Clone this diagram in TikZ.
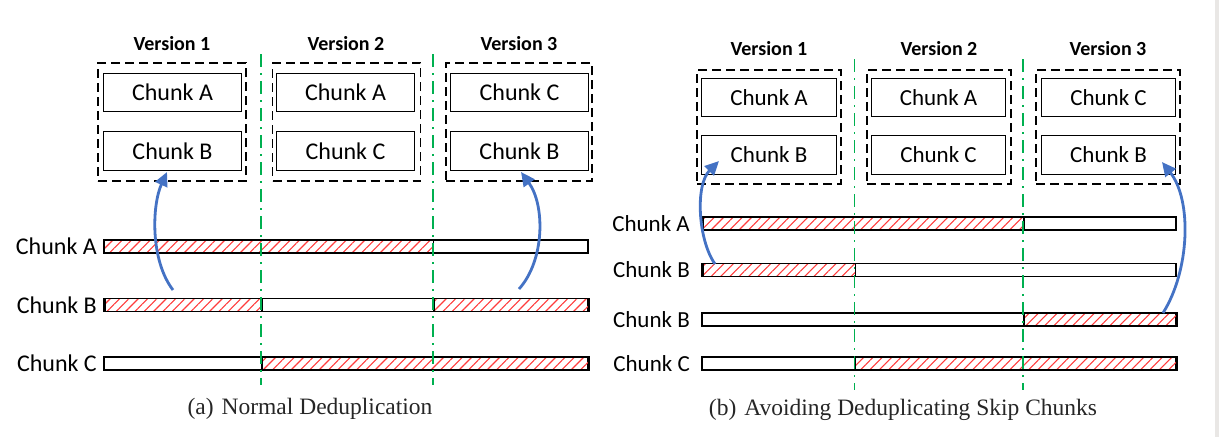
\documentclass[tikz,border=0pt]{standalone}
\usepackage{fontspec}
\newfontfamily\carl{Carlito}
\newfontfamily\capfont{Liberation Serif}
\usetikzlibrary{arrows.meta,patterns.meta}
\definecolor{arrblue}{HTML}{4472C4}
\definecolor{sepgreen}{HTML}{00B050}
\definecolor{hatchred}{HTML}{FF3B3B}
\definecolor{edgegray}{HTML}{E9E7E5}
\tikzset{
  vbox/.style={draw, line width=1.4pt, dash pattern=on 9pt off 5pt, inner sep=0pt},
  cboxa/.style={draw, line width=1.4pt, inner sep=0pt, minimum width=138pt, minimum height=38.5pt, font=\carl\fontsize{24}{28}\selectfont},
  cboxb/.style={draw, line width=1.4pt, inner sep=0pt, minimum width=134.5pt, minimum height=38.5pt, font=\carl\fontsize{23}{27}\selectfont},
  vlabel/.style={font=\carl\bfseries\fontsize{20}{24}\selectfont, inner sep=0pt},
  rowlaba/.style={anchor=east, inner sep=0pt, font=\carl\fontsize{24}{28}\selectfont},
  rowlabb/.style={anchor=east, inner sep=0pt, font=\carl\fontsize{23}{27}\selectfont},
  bar/.style={draw, line width=1.5pt, inner sep=0pt, minimum height=13pt},
  hatch/.style={draw, line width=1.5pt, inner sep=0pt, minimum height=13pt, anchor=west,
    pattern={Lines[angle=45,distance=6.6pt,line width=1.1pt]}, pattern color=hatchred},
  sep/.style={draw=sepgreen, line width=1.5pt, dash pattern=on 13pt off 6pt on 2pt off 6pt},
  arr/.style={draw=arrblue, line width=2.8pt, -{Triangle[length=14pt,width=13pt]}},
  caption/.style={anchor=base, inner sep=0pt, text=black!85, font=\capfont\fontsize{23.5}{27}\selectfont}
}
\begin{document}
\begin{tikzpicture}[x=1pt,y=-1pt]
\useasboundingbox (0,0) rectangle (1219,437);
\fill[edgegray] (1215,0) rectangle (1219,437);

% ---------------- Panel (a) ----------------
\node[vlabel] (aV1) at (172,44) {Version 1};
\node[vlabel] (aV2) at (346,44) {Version 2};
\node[vlabel] (aV3) at (519,44) {Version 3};

\node[vbox, minimum width=148pt, minimum height=118pt] (aD1) at (172,122) {};
\node[vbox, minimum width=148pt, minimum height=118pt] (aD2) at (346.5,122) {};
\node[vbox, minimum width=146pt, minimum height=118pt] (aD3) at (519,122) {};

\node[cboxa] (a1A) at (172.5,92.5) {Chunk A};
\node[cboxa] (a1B) at (172.5,151) {Chunk B};
\node[cboxa] (a2A) at (345.5,92.5) {Chunk A};
\node[cboxa] (a2C) at (345.5,151) {Chunk C};
\node[cboxa] (a3C) at (519.5,92.5) {Chunk C};
\node[cboxa] (a3B) at (519.5,151) {Chunk B};

\coordinate (aS1t) at (261,54); \coordinate (aS1b) at (261,385);
\coordinate (aS2t) at (433,54); \coordinate (aS2b) at (433,385);

\node[rowlaba] (aLA) at (97,246.5) {Chunk A};
\node[rowlaba] (aLB) at (97,305) {Chunk B};
\node[rowlaba] (aLC) at (97,363.5) {Chunk C};

\node[bar, minimum width=484pt] (aBA) at (346,246.5) {};
\node[bar, minimum width=484pt] (aBB) at (346,305) {};
\node[bar, minimum width=484pt] (aBC) at (346,363.5) {};

\node[hatch, minimum width=329pt] (aHA) at (104,246.5) {};
\node[hatch, minimum width=157pt] (aHB1) at (104,305) {};
\node[hatch, minimum width=155pt] (aHB2) at (433,305) {};
\node[hatch, minimum width=327pt] (aHC) at (261,363.5) {};

\draw[sep] (aS1t) -- (aS1b);
\draw[sep] (aS2t) -- (aS2b);

\coordinate (aA1s) at (173,290);
\coordinate (aA1e) at (167,172);
\coordinate (aA2s) at (519,289);
\coordinate (aA2e) at (521,172);
\draw[arr] (aA1s) .. controls (150,260) and (152,205) .. (aA1e);
\draw[arr] (aA2s) .. controls (545,260) and (545,205) .. (aA2e);

\node[caption] (capA) at (310,414) {(a)\hspace{8pt}Normal Deduplication};

% ---------------- Panel (b) ----------------
\node[vlabel] (bV1) at (769,49) {Version 1};
\node[vlabel] (bV2) at (939,49) {Version 2};
\node[vlabel] (bV3) at (1108,49) {Version 3};

\node[vbox, minimum width=144pt, minimum height=114pt] (bD1) at (769,127) {};
\node[vbox, minimum width=144pt, minimum height=114pt] (bD2) at (939,127) {};
\node[vbox, minimum width=144pt, minimum height=114pt] (bD3) at (1108,127) {};

\node[cboxb] (b1A) at (769,97.5) {Chunk A};
\node[cboxb] (b1B) at (769,155) {Chunk B};
\node[cboxb] (b2A) at (938.5,97.5) {Chunk A};
\node[cboxb] (b2C) at (938.5,155) {Chunk C};
\node[cboxb] (b3C) at (1108.5,97.5) {Chunk C};
\node[cboxb] (b3B) at (1108.5,155) {Chunk B};

\coordinate (bS1t) at (854.5,59); \coordinate (bS1b) at (854.5,390);
\coordinate (bS2t) at (1023,59); \coordinate (bS2b) at (1023,390);

\node[rowlabb] (bLA) at (690,223.5) {Chunk A};
\node[rowlabb] (bLB1) at (690,270) {Chunk B};
\node[rowlabb] (bLB2) at (690,319.5) {Chunk B};
\node[rowlabb] (bLC) at (690,363.5) {Chunk C};

\node[bar, minimum width=474pt] (bBA) at (939,223.5) {};
\node[bar, minimum width=474pt] (bBB1) at (939,270) {};
\node[bar, minimum width=474pt] (bBB2) at (939,319.5) {};
\node[bar, minimum width=474pt] (bBC) at (939,363.5) {};

\node[hatch, minimum width=321pt] (bHA) at (702,223.5) {};
\node[hatch, minimum width=152.5pt] (bHB1) at (702,270) {};
\node[hatch, minimum width=153pt] (bHB2) at (1023,319.5) {};
\node[hatch, minimum width=321.5pt] (bHC) at (854.5,363.5) {};

\draw[sep] (bS1t) -- (bS1b);
\draw[sep] (bS2t) -- (bS2b);

\coordinate (bA1s) at (715,264);
\coordinate (bA1e) at (719,161);
\coordinate (bA2s) at (1163,313);
\coordinate (bA2e) at (1162,162);
\draw[arr] (bA1s) .. controls (698,240) and (695,185) .. (bA1e);
\draw[arr] (bA2s) .. controls (1190,270) and (1192,200) .. (bA2e);

\node[caption] (capB) at (903,415) {(b)\hspace{8pt}Avoiding Deduplicating Skip Chunks};
\end{tikzpicture}
\end{document}
